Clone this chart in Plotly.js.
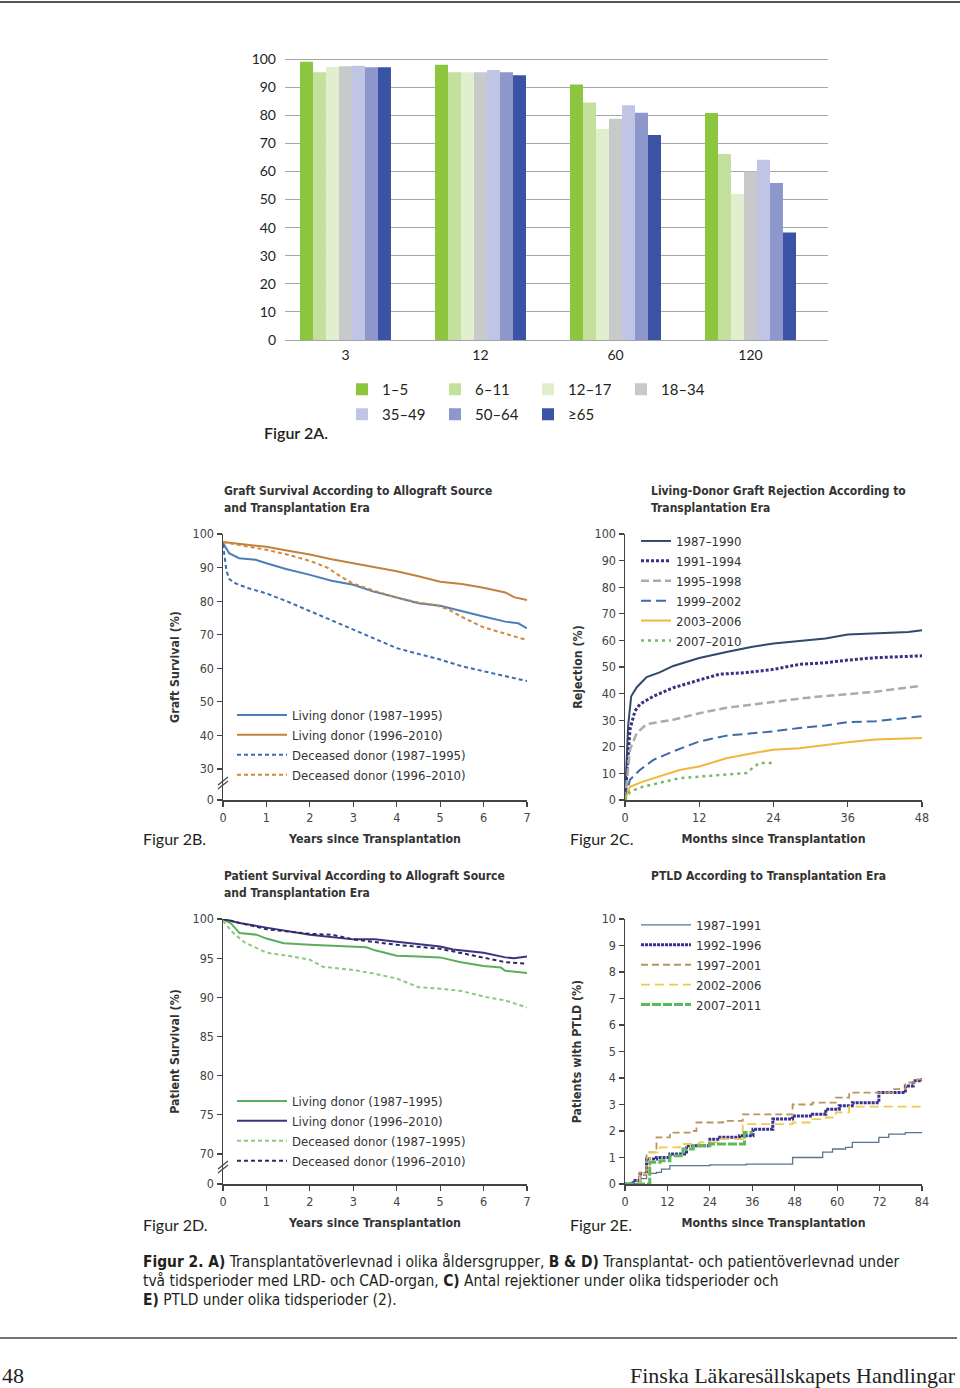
<!DOCTYPE html>
<html>
<head>
<meta charset="utf-8">
<script src="https://cdn.plot.ly/plotly-3.0.1.min.js"></script>
<style>html,body{margin:0;padding:0;background:#fff;}#chart{width:960px;height:1388px;}</style>
</head>
<body>
<div id="chart"></div>
<script>
// ---------- Figur 2A data (graft survival % by age group) ----------
const monthsA = ['3', '12', '60', '120'];
const ageGroups = ['1–5', '6–11', '12–17', '18–34', '35–49', '50–64', '≥65'];
const age1_5   = [99.1, 98.0, 91.0, 80.8];
const age6_11  = [95.3, 95.3, 84.6, 66.2];
const age12_17 = [97.2, 95.3, 75.1, 52.0];
const age18_34 = [97.5, 95.3, 78.8, 60.0];
const age35_49 = [97.6, 96.1, 83.6, 64.2];
const age50_64 = [97.1, 95.3, 80.9, 55.9];
const age65    = [97.1, 94.3, 73.0, 38.3];

// ---------- Figur 2B data (graft survival %) ----------
const bYearsLD1 = [0, 0.14, 0.37, 0.75, 1, 1.45, 1.98, 2.5, 3, 3.45, 4, 4.5, 5, 5.45, 6, 6.5, 6.8, 7];
const bLD1      = [97.3, 94.3, 92.8, 92.3, 91.3, 89.6, 87.9, 86.1, 84.9, 82.9, 81.1, 79.4, 78.6, 77.1, 75.4, 73.9, 73.4, 71.9];
const bYearsLD2 = [0, 0.5, 1, 1.5, 2, 2.5, 3, 3.5, 4, 4.5, 5, 5.5, 6, 6.5, 6.7, 7];
const bLD2      = [97.6, 97.0, 96.2, 95.0, 93.9, 92.5, 91.3, 90.2, 88.9, 87.4, 85.8, 85.1, 84.0, 82.6, 81.2, 80.3];
const bYearsDD1 = [0, 0.03, 0.08, 0.15, 0.3, 0.6, 1, 1.5, 2, 2.5, 3, 3.5, 4, 4.5, 5, 5.5, 6, 6.5, 7];
const bDD1      = [97.0, 94.0, 89.0, 86.5, 85.2, 83.8, 82.3, 79.8, 77.0, 74.2, 71.4, 68.8, 66.0, 64.3, 62.6, 60.6, 59.2, 57.8, 56.2];
const bYearsDD2 = [0, 0.5, 1, 1.5, 2, 2.4, 2.7, 3, 3.5, 4, 4.5, 4.9, 5.2, 5.5, 6, 6.5, 7];
const bDD2      = [97.6, 96.5, 95.3, 93.8, 92.0, 90.0, 87.4, 85.2, 83.0, 81.1, 79.6, 78.8, 77.5, 75.3, 72.2, 70.3, 68.4];
const bLabels   = ['Living donor (1987–1995)', 'Living donor (1996–2010)', 'Deceased donor (1987–1995)', 'Deceased donor (1996–2010)'];
const bTickVals = [20.77, 30, 40, 50, 60, 70, 80, 90, 100];
const bTickText = ['0', '30', '40', '50', '60', '70', '80', '90', '100'];

// ---------- Figur 2C data (rejection %) ----------
const cMonths1 = [0, 0.5, 1, 1.9, 3.5, 5.6, 7.8, 12, 16.4, 20.6, 24, 28.7, 32.4, 36, 40.5, 45.8, 48];
const cRej1    = [0, 27.7, 39, 42.4, 46.2, 48, 50.4, 53.4, 55.6, 57.6, 58.8, 60, 60.7, 62.2, 62.6, 63.2, 63.8];
const cMonths2 = [0, 0.8, 1.6, 2.4, 4.6, 7.8, 12, 15.3, 19.6, 24, 28.2, 32.4, 36, 40.5, 48];
const cRej2    = [0, 26.5, 33.4, 36, 39, 42.2, 45.1, 47.3, 47.9, 49.1, 51, 51.6, 52.6, 53.5, 54.2];
const cMonths3 = [0, 0.8, 1.9, 3.5, 7.8, 12, 16.4, 20.6, 24, 28.2, 32.4, 36, 40.5, 48];
const cRej3    = [0, 18.9, 25.2, 28.5, 30.2, 32.6, 34.7, 36, 36.8, 38.1, 39.1, 39.8, 40.7, 43];
const cMonths4 = [0, 0.8, 2.4, 4.6, 7.8, 12, 16.4, 20.6, 24, 28.2, 32.4, 36, 40.5, 48];
const cRej4    = [0, 7.6, 11.3, 15.1, 18.3, 22, 24.2, 25.2, 25.8, 27.1, 28, 29.3, 29.6, 31.5];
const cMonths5 = [0, 0.8, 2.9, 5.6, 8.8, 12, 16.4, 20.6, 24, 28.2, 32.4, 36, 40.5, 44.2, 48];
const cRej5    = [0, 5, 6.9, 8.8, 11.3, 12.6, 15.7, 17.6, 18.9, 19.5, 20.8, 21.7, 22.7, 22.9, 23.3];
const cMonths6 = [0, 0.8, 2.9, 5.6, 8.8, 12, 16.4, 19.6, 20.6, 21.7, 24];
const cRej6    = [0, 3.1, 5, 6.5, 8.2, 8.8, 9.4, 10.1, 12, 13.9, 13.9];
const cLabels  = ['1987–1990', '1991–1994', '1995–1998', '1999–2002', '2003–2006', '2007–2010'];

// ---------- Figur 2D data (patient survival %) ----------
const dYearsLD1 = [0, 0.19, 0.38, 0.77, 1, 1.4, 2, 3, 3.3, 3.5, 4, 4.5, 5, 5.45, 6, 6.4, 6.5, 7];
const dLD1      = [100, 99.4, 98.2, 98, 97.5, 96.9, 96.7, 96.5, 96.4, 96, 95.3, 95.2, 95.1, 94.5, 94, 93.8, 93.4, 93.1];
const dYearsLD2 = [0, 0.38, 1, 2, 3, 3.5, 4, 5, 5.3, 6, 6.5, 6.7, 7];
const dLD2      = [100, 99.5, 98.9, 98, 97.4, 97.4, 97.1, 96.5, 96.1, 95.7, 95.1, 95.0, 95.2];
const dYearsDD1 = [0, 0.2, 0.5, 1, 1.5, 2, 2.3, 3, 3.5, 4, 4.5, 5, 5.5, 6, 6.5, 7];
const dDD1      = [99.8, 98.4, 97.0, 95.7, 95.3, 94.8, 93.9, 93.5, 93.0, 92.4, 91.3, 91.1, 90.8, 90.1, 89.6, 88.7];
const dYearsDD2 = [0, 1, 2, 2.5, 3, 4, 5, 5.45, 6, 6.5, 7];
const dDD2      = [100, 98.7, 98.1, 98, 97.4, 96.7, 96.2, 95.7, 95.1, 94.5, 94.3];
const dTickVals = [66.17, 70, 75, 80, 85, 90, 95, 100];
const dTickText = ['0', '70', '75', '80', '85', '90', '95', '100'];

// ---------- Figur 2E data (patients with PTLD %) ----------
const eMonths1 = [0, 4.2, 6.1, 8.9, 10.3, 12.7, 24, 34.3, 47.4, 55.9, 58.7, 62.4, 64.3, 71.8, 74.6, 79.3, 84];
const ePTLD1   = [0, 0.2, 0.4, 0.44, 0.56, 0.69, 0.72, 0.75, 1.0, 1.2, 1.32, 1.38, 1.57, 1.76, 1.88, 1.94, 1.97];
const eMonths2 = [0, 2.3, 4.2, 6.1, 8.9, 12.7, 17.4, 24, 26.8, 32.4, 36.2, 41.8, 47.4, 53, 56.8, 60.6, 64.3, 71.8, 79.3, 81.5, 84];
const ePTLD2   = [0, 0.13, 0.38, 0.94, 1.0, 1.13, 1.44, 1.69, 1.76, 1.82, 2.07, 2.45, 2.57, 2.63, 2.82, 2.95, 3.07, 3.45, 3.7, 3.9, 4.0];
const eMonths3 = [0, 4.2, 6.1, 8.9, 12.7, 18.3, 20.2, 27.7, 33.3, 41.8, 47.4, 53, 59.6, 63.4, 75.6, 79.3, 82, 84];
const ePTLD3   = [0, 0.44, 1.19, 1.76, 1.94, 2.0, 2.32, 2.38, 2.63, 2.63, 3.0, 3.07, 3.26, 3.45, 3.58, 3.83, 3.95, 3.98];
const eMonths4 = [0, 4.2, 7, 9.9, 15.5, 21.1, 26.8, 33.3, 47.4, 53, 56.8, 59.6, 63.4, 84];
const ePTLD4   = [0, 0.38, 1.19, 1.38, 1.51, 1.57, 1.69, 2.26, 2.32, 2.45, 2.51, 2.7, 2.92, 2.92];
const eMonths5 = [0, 5.2, 7, 9.9, 12.7, 16.4, 19.3, 24, 27.7, 33.8, 36.2];
const ePTLD5   = [0, 0, 0.82, 0.88, 1.07, 1.32, 1.44, 1.51, 1.51, 1.94, 1.94];
const eLabels  = ['1987–1991', '1992–1996', '1997–2001', '2002–2006', '2007–2011'];

// ---------- helpers ----------
const W = 960, H = 1388;
const px = v => v / W;
const py = v => 1 - v / H;
const ART = 'Lato, "Open Sans", sans-serif';
const NARROW = '"Liberation Sans Narrow", "DejaVu Sans Condensed", "Roboto Condensed", "Arial Narrow", sans-serif';
const SERIF = '"Liberation Serif", "DejaVu Serif", serif';

const barColors = ['#8cc63f', '#c4e09d', '#e1efcf', '#c8c9cb', '#c1c5e5', '#8e97cc', '#3a53a4'];
const barSeries = [age1_5, age6_11, age12_17, age18_34, age35_49, age50_64, age65];

const traces = [];
barSeries.forEach((vals, i) => {
  traces.push({
    type: 'bar', x: monthsA, y: vals, name: ageGroups[i],
    marker: {color: barColors[i], line: {width: 0}},
    xaxis: 'x', yaxis: 'y', legend: i < 4 ? 'legend' : 'legend2',
    hoverinfo: 'skip'
  });
});

function line(x, y, name, color, width, dash, xa, ya, lg, shape) {
  return {type: 'scatter', mode: 'lines', x: x, y: y, name: name,
    line: {color: color, width: width, dash: dash, shape: shape || 'linear'},
    xaxis: xa, yaxis: ya, legend: lg, hoverinfo: 'skip'};
}

// B
traces.push(line(bYearsLD1, bLD1, bLabels[0], '#4a7fb8', 2, 'solid', 'x2', 'y2', 'legend3'));
traces.push(line(bYearsLD2, bLD2, bLabels[1], '#c2813c', 2, 'solid', 'x2', 'y2', 'legend3'));
traces.push(line(bYearsDD1, bDD1, bLabels[2], '#3a6db0', 2, '4px,3px', 'x2', 'y2', 'legend3'));
traces.push(line(bYearsDD2, bDD2, bLabels[3], '#d0883c', 2, '4px,3px', 'x2', 'y2', 'legend3'));
// C
traces.push(line(cMonths1, cRej1, cLabels[0], '#2f4a6c', 2, 'solid', 'x3', 'y3', 'legend4'));
traces.push(line(cMonths2, cRej2, cLabels[1], '#3a2f80', 3, '3px,2px', 'x3', 'y3', 'legend4'));
traces.push(line(cMonths3, cRej3, cLabels[2], '#ababab', 2.5, '8px,4px', 'x3', 'y3', 'legend4'));
traces.push(line(cMonths4, cRej4, cLabels[3], '#3d6aa8', 2, '10px,5px', 'x3', 'y3', 'legend4'));
traces.push(line(cMonths5, cRej5, cLabels[4], '#f0b83a', 2, 'solid', 'x3', 'y3', 'legend4'));
traces.push(line(cMonths6, cRej6, cLabels[5], '#79b864', 2.5, '3px,4px', 'x3', 'y3', 'legend4'));
// D
traces.push(line(dYearsLD1, dLD1, bLabels[0], '#5cae5c', 2, 'solid', 'x4', 'y4', 'legend5'));
traces.push(line(dYearsLD2, dLD2, bLabels[1], '#3f3282', 2, 'solid', 'x4', 'y4', 'legend5'));
traces.push(line(dYearsDD1, dDD1, bLabels[2], '#8ccb7c', 2, '4px,3px', 'x4', 'y4', 'legend5'));
traces.push(line(dYearsDD2, dDD2, bLabels[3], '#2c2c5c', 2, '4px,3px', 'x4', 'y4', 'legend5'));
// E
traces.push(line(eMonths1, ePTLD1, eLabels[0], '#5a7590', 1.3, 'solid', 'x5', 'y5', 'legend6', 'hv'));
traces.push(line(eMonths2, ePTLD2, eLabels[1], '#3b2f90', 3, '3px,1px', 'x5', 'y5', 'legend6', 'hv'));
traces.push(line(eMonths3, ePTLD3, eLabels[2], '#b8955e', 1.8, '7px,4px', 'x5', 'y5', 'legend6', 'hv'));
traces.push(line(eMonths4, ePTLD4, eLabels[3], '#f2c84e', 1.8, '9px,5px', 'x5', 'y5', 'legend6', 'hv'));
traces.push(line(eMonths5, ePTLD5, eLabels[4], '#5cb85c', 3, '9px,2px', 'x5', 'y5', 'legend6', 'hv'));

const tickFontN = {family: NARROW, size: 12.5, color: '#444'};
const axTitleFont = {family: NARROW, size: 12.3, color: '#333', weight: 'bold'};
function xAx(x0, x1, yanchor, range, tickvals, title) {
  return {domain: [px(x0), px(x1)], anchor: yanchor, range: range, tickvals: tickvals,
    showline: true, linecolor: '#444', linewidth: 1.5, ticks: 'outside', ticklen: 5, tickwidth: 1.2, tickcolor: '#444',
    showgrid: false, zeroline: false, tickfont: tickFontN, fixedrange: true,
    title: {text: title, font: axTitleFont, standoff: 11}};
}
function yAx(ytop, ybot, xanchor, range, tickvals, ticktext, title, standoff) {
  return {domain: [py(ybot), py(ytop)], anchor: xanchor, range: range, tickvals: tickvals, ticktext: ticktext,
    showline: true, linecolor: '#444', linewidth: 1.5, ticks: 'outside', ticklen: 5, tickwidth: 1.2, tickcolor: '#444',
    showgrid: false, zeroline: false, tickfont: tickFontN, fixedrange: true,
    title: {text: title, font: axTitleFont, standoff: standoff}};
}
function legendAt(x, y, size, itemwidth) {
  return {x: px(x), y: py(y), xanchor: 'left', yanchor: 'top', bgcolor: 'rgba(0,0,0,0)',
    font: {family: NARROW, size: size, color: '#333'}, itemwidth: itemwidth, tracegroupgap: 0};
}

const annFig = (text, x, y, weight) => ({text: text, x: px(x), y: py(y), xref: 'paper', yref: 'paper',
  xanchor: 'left', yanchor: 'middle', showarrow: false, font: {family: ART, size: 16, color: '#231f20', weight: weight || 'normal'}});
const annTitle = (text, x, yc) => ({text: text, x: px(x), y: py(yc), xref: 'paper', yref: 'paper',
  xanchor: 'left', yanchor: 'middle', align: 'left', showarrow: false, font: {family: NARROW, size: 12, color: '#333', weight: 'bold'}});
const annCap = (text, y) => ({text: text, x: px(141), y: py(y), xref: 'paper', yref: 'paper',
  xanchor: 'left', yanchor: 'middle', align: 'left', showarrow: false, font: {family: NARROW, size: 15.4, color: '#231f20'}});

function breakMarks(xAxisPx, yc) {
  return [
    {type: 'line', xref: 'paper', yref: 'paper', x0: px(xAxisPx - 5), y0: py(yc + 5), x1: px(xAxisPx + 5), y1: py(yc - 3), line: {color: '#444', width: 1.3}},
    {type: 'line', xref: 'paper', yref: 'paper', x0: px(xAxisPx - 5), y0: py(yc + 1), x1: px(xAxisPx + 5), y1: py(yc - 7), line: {color: '#444', width: 1.3}}
  ];
}
const legA = {orientation: 'h', entrywidth: 48, entrywidthmode: 'pixels', font: {family: ART, size: 15, color: '#231f20'}};

const layout = {
  width: W, height: H, margin: {l: 0, r: 0, t: 0, b: 0},
  paper_bgcolor: '#fff', plot_bgcolor: 'rgba(0,0,0,0)', showlegend: true,
  barmode: 'group', bargap: 0.326, bargroupgap: 0,
  font: {family: ART, color: '#231f20'},
  xaxis: {domain: [px(285), px(828)], anchor: 'y', type: 'category', range: [-0.448, 3.574],
    showgrid: false, zeroline: false, showline: true, linecolor: '#a6a6a6', linewidth: 1, ticks: '',
    tickfont: {family: ART, size: 14, color: '#231f20'}, ticklabelstandoff: 2, fixedrange: true},
  yaxis: {domain: [py(340), py(58)], anchor: 'x', range: [0, 100.4], tickvals: [0,10,20,30,40,50,60,70,80,90,100],
    showgrid: true, gridcolor: '#a6a6a6', gridwidth: 1, zeroline: false, showline: false, ticks: '',
    tickfont: {family: ART, size: 14, color: '#231f20'}, ticklabelstandoff: 8, fixedrange: true},
  xaxis2: xAx(223, 527, 'y2', [0, 7], [0,1,2,3,4,5,6,7], 'Years since Transplantation'),
  yaxis2: yAx(534, 800, 'x2', [20.77, 100], bTickVals, bTickText, 'Graft Survival (%)', 10),
  xaxis3: xAx(625, 922, 'y3', [0, 48], [0,12,24,36,48], 'Months since Transplantation'),
  yaxis3: yAx(534, 800, 'x3', [0, 100], [0,10,20,30,40,50,60,70,80,90,100], null, 'Rejection (%)', 9),
  xaxis4: xAx(223, 527, 'y4', [0, 7], [0,1,2,3,4,5,6,7], 'Years since Transplantation'),
  yaxis4: yAx(919, 1184, 'x4', [66.17, 100], dTickVals, dTickText, 'Patient Survival (%)', 10),
  xaxis5: xAx(625, 922, 'y5', [0, 84], [0,12,24,36,48,60,72,84], 'Months since Transplantation'),
  yaxis5: yAx(919, 1184, 'x5', [0, 10], [0,1,2,3,4,5,6,7,8,9,10], null, 'Patients with PTLD (%)', 17),
  legend: Object.assign(legendAt(342, 373, 15, 30), legA),
  legend2: Object.assign(legendAt(342, 398, 15, 30), legA),
  legend3: legendAt(232, 700, 13, 50),
  legend4: legendAt(636, 526, 13, 30),
  legend5: legendAt(232, 1086, 13, 50),
  legend6: legendAt(636, 910, 13, 50),
  shapes: [
    {type: 'line', xref: 'paper', yref: 'paper', x0: 0, x1: 1, y0: py(2), y1: py(2), line: {color: '#555', width: 2}},
    {type: 'line', xref: 'paper', yref: 'paper', x0: 0, x1: px(957), y0: py(1338), y1: py(1338), line: {color: '#444', width: 1.5}},
    ...breakMarks(223, 784),
    ...breakMarks(223, 1168)
  ],
  annotations: [
    annFig('Figur 2A.', 262, 432, 600),
    annFig('Figur 2B.', 141, 838),
    annFig('Figur 2C.', 568, 838),
    annFig('Figur 2D.', 141, 1224),
    annFig('Figur 2E.', 568, 1224),
    annTitle('Graft Survival According to Allograft Source', 222, 491),
    annTitle('and Transplantation Era', 222, 508),
    annTitle('Living-Donor Graft Rejection According to', 649, 491),
    annTitle('Transplantation Era', 649, 508),
    annTitle('Patient Survival According to Allograft Source', 222, 876),
    annTitle('and Transplantation Era', 222, 893),
    annTitle('PTLD According to Transplantation Era', 649, 876),
    annCap('<b>Figur 2. A)</b> Transplantatöverlevnad i olika åldersgrupper, <b>B & D)</b> Transplantat- och patientöverlevnad under', 1262),
    annCap('två tidsperioder med LRD- och CAD-organ, <b>C)</b> Antal rejektioner under olika tidsperioder och', 1281),
    annCap('<b>E)</b> PTLD under olika tidsperioder (2).', 1300),
    {text: '48', x: 0, y: py(1375), xref: 'paper', yref: 'paper', xanchor: 'left', yanchor: 'middle', showarrow: false,
      font: {family: SERIF, size: 22, color: '#222'}},
    {text: 'Finska Läkaresällskapets Handlingar', x: px(958), y: py(1375), xref: 'paper', yref: 'paper', xanchor: 'right', yanchor: 'middle', showarrow: false,
      font: {family: SERIF, size: 22, color: '#222'}}
  ]
};

Plotly.newPlot('chart', traces, layout, {staticPlot: true, displayModeBar: false});
</script>
</body>
</html>
